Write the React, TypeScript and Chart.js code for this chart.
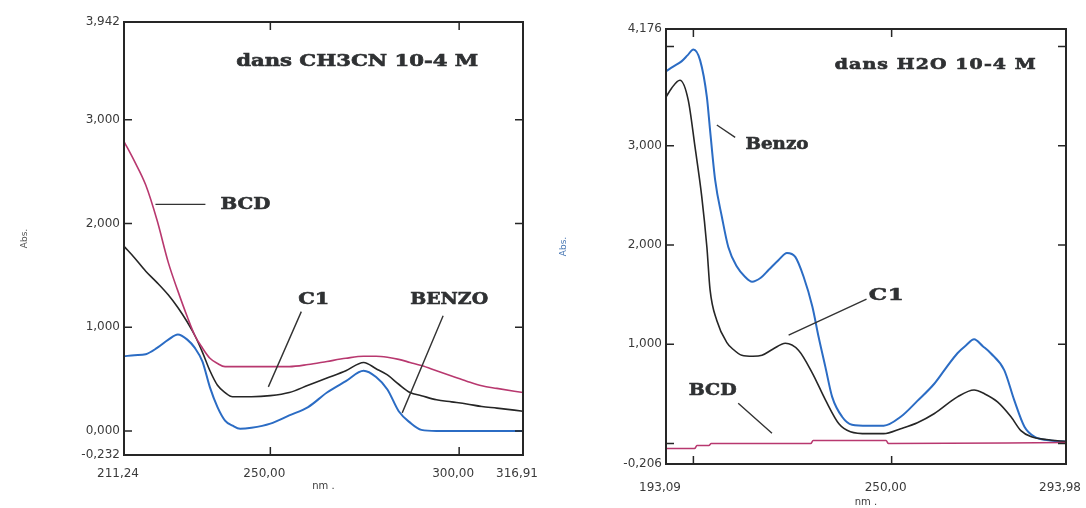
import React, { useEffect, useRef } from 'react';
import { Chart, registerables } from 'chart.js';

Chart.register(...registerables);

// ---------------- Left panel: dans CH3CN 10-4 M ----------------
const leftNm = [211.24, 214, 217, 220, 223, 225.5, 228, 230, 232, 234, 236, 238, 240, 242, 245, 250, 255, 260, 265, 270, 274.7, 278, 281, 284, 287, 290, 294, 298, 302, 306, 310, 316.91];
const leftBcd = [2.79, 2.6, 2.37, 2.03, 1.62, 1.35, 1.1, 0.92, 0.8, 0.7, 0.65, 0.62, 0.62, 0.62, 0.62, 0.62, 0.62, 0.64, 0.67, 0.7, 0.72, 0.72, 0.71, 0.69, 0.66, 0.63, 0.58, 0.53, 0.48, 0.435, 0.41, 0.37];
const leftC1 = [1.78, 1.67, 1.54, 1.43, 1.31, 1.19, 1.05, 0.92, 0.76, 0.58, 0.44, 0.37, 0.33, 0.33, 0.33, 0.34, 0.37, 0.44, 0.51, 0.58, 0.66, 0.6, 0.54, 0.45, 0.37, 0.34, 0.3, 0.28, 0.26, 0.235, 0.22, 0.19];
const leftBenzo = [0.72, 0.73, 0.74, 0.8, 0.88, 0.93, 0.88, 0.8, 0.67, 0.42, 0.23, 0.1, 0.05, 0.02, 0.03, 0.07, 0.15, 0.23, 0.37, 0.48, 0.58, 0.52, 0.4, 0.19, 0.08, 0.01, 0, 0, 0, 0, 0, 0];
const leftXTicks = [211.24, 250, 300, 316.91];
const leftXMarks = [250, 300];
const leftYTicks = [-0.232, 0, 1, 2, 3, 3.942];
const leftYMarks = [0, 1, 2, 3];

// ---------------- Right panel: dans H2O 10-4 M ----------------
const rightBenzoNm = [193.09, 195, 197, 198.5, 200, 201.7, 203.4, 204.2, 205.5, 207.2, 208.8, 211, 213, 214.8, 217, 219, 221.5, 223.6, 225.7, 227.8, 230, 231.6, 233.3, 235, 237.5, 240, 244, 248, 252.3, 256.5, 260.7, 263.5, 266.6, 268.8, 270.8, 273, 275, 278.4, 280.9, 283.5, 286, 290, 293.98];
const rightBenzo = [3.75, 3.8, 3.85, 3.91, 3.97, 3.86, 3.49, 3.16, 2.65, 2.28, 1.98, 1.78, 1.68, 1.63, 1.67, 1.75, 1.85, 1.92, 1.88, 1.68, 1.38, 1.07, 0.77, 0.47, 0.27, 0.19, 0.18, 0.18, 0.27, 0.43, 0.6, 0.75, 0.91, 0.99, 1.05, 0.98, 0.91, 0.74, 0.44, 0.17, 0.07, 0.03, 0.02];
const rightC1Nm = [193.09, 194.5, 196.6, 198.7, 200.4, 202.1, 203.4, 204.2, 205.9, 208.4, 210, 212.2, 215, 217.3, 220, 223.2, 226.5, 230, 233.3, 236.7, 239.6, 244, 248, 252.3, 256.5, 260.7, 266.6, 270.8, 273.5, 276.7, 280.1, 282.6, 285.1, 289, 293.98];
const rightC1 = [3.49, 3.58, 3.66, 3.46, 2.99, 2.49, 1.98, 1.55, 1.24, 1.02, 0.95, 0.89, 0.88, 0.89, 0.95, 1.01, 0.94, 0.71, 0.44, 0.2, 0.12, 0.1, 0.1, 0.15, 0.21, 0.3, 0.47, 0.54, 0.5, 0.42, 0.27, 0.13, 0.07, 0.04, 0.02];
const rightBcdNm = [193.09, 200.3, 200.9, 203.9, 204.5, 229.6, 230.2, 248.6, 249.2, 293.98];
const rightBcd = [-0.05, -0.05, -0.02, -0.02, 0.0, 0.0, 0.03, 0.03, 0.0, 0.01];
const rightXTicks = [193.09, 250, 293.98];
const rightXMarks = [200, 250];
const rightYTicks = [-0.206, 1, 2, 3, 4.176];
const rightYMarks = [0, 1, 2, 3, 4];

const COLOR_BCD = '#b8386f';
const COLOR_C1 = '#262626';
const COLOR_BENZO = '#2b6cc4';

type Series = { name: string; nm: number[]; values: number[]; color: string; width: number };
type Label = { text: string; x: number; y: number; w: number; size: number };
type Leader = [number, number, number, number];

interface PanelSpec {
  series: Series[];
  xMin: number; xMax: number; yMin: number; yMax: number;
  xTicks: number[]; yTicks: number[]; xMarks: number[]; yMarks: number[];
  labels: Label[]; leaders: Leader[];
  padLeft: number; padTop: number; padRight: number;
  yWidth: number; xHeight: number; xTickPad: number; xTitlePad: number;
  yTitlePad: number; yTitleColor: string;
}

const leftPanel: PanelSpec = {
  series: [
    { name: 'BCD', nm: leftNm, values: leftBcd, color: COLOR_BCD, width: 1.6 },
    { name: 'C1', nm: leftNm, values: leftC1, color: COLOR_C1, width: 1.6 },
    { name: 'BENZO', nm: leftNm, values: leftBenzo, color: COLOR_BENZO, width: 2 },
  ],
  xMin: 211.24, xMax: 316.91, yMin: -0.232, yMax: 3.942,
  xTicks: leftXTicks, yTicks: leftYTicks, xMarks: leftXMarks, yMarks: leftYMarks,
  labels: [
    { text: 'dans CH3CN 10-4 M', x: 273.0, y: 3.556, w: 242, size: 16 },
    { text: 'BCD', x: 243.4, y: 2.178, w: 50, size: 17 },
    { text: 'C1', x: 261.5, y: 1.271, w: 31, size: 17 },
    { text: 'BENZO', x: 297.35, y: 1.271, w: 78, size: 17 },
  ],
  leaders: [
    [219.57, 2.184, 232.8, 2.184],
    [258.2, 1.15, 249.47, 0.425],
    [295.76, 1.111, 284.92, 0.174],
  ],
  padLeft: 14, padTop: 22, padRight: 20, yWidth: 110, xHeight: 53,
  xTickPad: 12, xTitlePad: 16, yTitlePad: 5, yTitleColor: '#555555',
};

const rightPanel: PanelSpec = {
  series: [
    { name: 'BCD', nm: rightBcdNm, values: rightBcd, color: COLOR_BCD, width: 1.6 },
    { name: 'C1', nm: rightC1Nm, values: rightC1, color: COLOR_C1, width: 1.6 },
    { name: 'Benzo', nm: rightBenzoNm, values: rightBenzo, color: COLOR_BENZO, width: 2 },
  ],
  xMin: 193.09, xMax: 293.98, yMin: -0.206, yMax: 4.176,
  xTicks: rightXTicks, yTicks: rightYTicks, xMarks: rightXMarks, yMarks: rightYMarks,
  labels: [
    { text: 'dans H2O 10-4 M', x: 261.0, y: 3.814, w: 201, size: 14 },
    { text: 'Benzo', x: 221.09, y: 3.007, w: 63, size: 17 },
    { text: 'C1', x: 248.65, y: 1.488, w: 35, size: 17 },
    { text: 'BCD', x: 204.85, y: 0.537, w: 48, size: 17 },
  ],
  leaders: [
    [205.91, 3.209, 210.54, 3.085],
    [243.67, 1.455, 224.02, 1.092],
    [211.3, 0.406, 219.82, 0.104],
  ],
  padLeft: 14, padTop: 29, padRight: 20, yWidth: 109, xHeight: 44,
  xTickPad: 17, xTitlePad: 0, yTitlePad: 1, yTitleColor: '#4a78b4',
};

function drawLabel(ctx: CanvasRenderingContext2D, text: string, cx: number, cy: number, targetW: number, size: number) {
  ctx.save();
  ctx.font = `bold ${size}px "DejaVu Serif"`;
  ctx.fillStyle = '#2f3133';
  ctx.strokeStyle = '#2f3133';
  ctx.lineWidth = 0.6;
  ctx.textBaseline = 'middle';
  ctx.textAlign = 'left';
  (ctx as any).letterSpacing = '0px';
  const m = ctx.measureText(text).width;
  let sx = 1;
  let spacing = 0;
  if (targetW > m) {
    sx = Math.min(targetW / m, 1.35);
    const rem = targetW - m * sx;
    spacing = text.length > 1 ? rem / (text.length - 1) / sx : 0;
  } else {
    sx = targetW / m;
  }
  (ctx as any).letterSpacing = `${spacing}px`;
  ctx.translate(cx - targetW / 2, cy);
  ctx.scale(sx, 1);
  ctx.fillText(text, 0, 0);
  ctx.strokeText(text, 0, 0);
  ctx.restore();
}

function framePlugin(p: PanelSpec) {
  return {
    id: 'frame',
    afterDraw(chart: any) {
      const { ctx, chartArea: a, scales } = chart;
      const xs = scales.x;
      const ys = scales.y;
      ctx.save();
      ctx.strokeStyle = '#262626';
      ctx.lineWidth = 2;
      ctx.strokeRect(a.left, a.top, a.right - a.left, a.bottom - a.top);
      ctx.lineWidth = 1.5;
      ctx.beginPath();
      for (const v of p.xMarks) {
        const px = xs.getPixelForValue(v);
        ctx.moveTo(px, a.top);
        ctx.lineTo(px, a.top + 8);
        ctx.moveTo(px, a.bottom);
        ctx.lineTo(px, a.bottom - 8);
      }
      for (const v of p.yMarks) {
        const py = ys.getPixelForValue(v);
        ctx.moveTo(a.left, py);
        ctx.lineTo(a.left + 8, py);
        ctx.moveTo(a.right, py);
        ctx.lineTo(a.right - 8, py);
      }
      ctx.stroke();
      ctx.strokeStyle = '#333333';
      ctx.lineWidth = 1.4;
      ctx.beginPath();
      for (const [x1, y1, x2, y2] of p.leaders) {
        ctx.moveTo(xs.getPixelForValue(x1), ys.getPixelForValue(y1));
        ctx.lineTo(xs.getPixelForValue(x2), ys.getPixelForValue(y2));
      }
      ctx.stroke();
      for (const l of p.labels) {
        drawLabel(ctx, l.text, xs.getPixelForValue(l.x), ys.getPixelForValue(l.y), l.w, l.size);
      }
      ctx.restore();
    },
  };
}

function buildConfig(p: PanelSpec): any {
  const tickFont = { family: 'DejaVu Sans', size: 12 };
  return {
    type: 'line',
    data: {
      datasets: p.series.map((s) => ({
        label: s.name,
        data: s.nm.map((x, i) => ({ x, y: s.values[i] })),
        borderColor: s.color,
        backgroundColor: s.color,
        borderWidth: s.width,
        pointRadius: 0,
        cubicInterpolationMode: 'monotone',
        fill: false,
      })),
    },
    options: {
      animation: false,
      responsive: false,
      events: [],
      layout: { padding: { left: p.padLeft, top: p.padTop, right: p.padRight, bottom: 0 } },
      plugins: { legend: { display: false }, tooltip: { enabled: false } },
      scales: {
        x: {
          type: 'linear',
          min: p.xMin,
          max: p.xMax,
          grid: { display: false, drawTicks: false },
          border: { display: false },
          afterBuildTicks: (s: any) => { s.ticks = p.xTicks.map((v) => ({ value: v })); },
          afterFit: (s: any) => { s.height = p.xHeight; s.paddingLeft = 0; s.paddingRight = 0; },
          ticks: {
            autoSkip: false,
            maxRotation: 0,
            minRotation: 0,
            padding: p.xTickPad,
            labelOffset: -6,
            color: '#3a3a3a',
            font: tickFont,
            callback: (v: any) => Number(v).toFixed(2).replace('.', ','),
          },
          title: {
            display: true,
            text: 'nm .',
            color: '#3a3a3a',
            font: { family: 'DejaVu Sans', size: 10 },
            padding: { top: 0, bottom: p.xTitlePad },
          },
        },
        y: {
          type: 'linear',
          min: p.yMin,
          max: p.yMax,
          grid: { display: false, drawTicks: false },
          border: { display: false },
          afterBuildTicks: (s: any) => { s.ticks = p.yTicks.map((v) => ({ value: v })); },
          afterFit: (s: any) => { s.width = p.yWidth; s.paddingTop = 0; s.paddingBottom = 0; },
          ticks: {
            autoSkip: false,
            padding: 4,
            color: '#3a3a3a',
            font: tickFont,
            callback: (v: any) => Number(v).toFixed(3).replace('.', ','),
          },
          title: {
            display: true,
            text: 'Abs.',
            color: p.yTitleColor,
            font: { family: 'DejaVu Sans', size: 9 },
            padding: { top: p.yTitlePad, bottom: 0 },
          },
        },
      },
    },
    plugins: [framePlugin(p)],
  };
}

function Panel({ spec, left }: { spec: PanelSpec; left: number }) {
  const ref = useRef<HTMLCanvasElement | null>(null);
  useEffect(() => {
    if (!ref.current) return;
    const chart = new Chart(ref.current, buildConfig(spec));
    return () => chart.destroy();
  }, [spec]);
  return (
    <canvas
      ref={ref}
      width={543}
      height={508}
      style={{ position: 'absolute', left, top: 0, width: 543, height: 508, display: 'block' }}
    />
  );
}

export default function App() {
  return (
    <div style={{ position: 'absolute', left: 0, top: 0, width: 1086, height: 508, background: '#ffffff', overflow: 'hidden' }}>
      <Panel spec={leftPanel} left={0} />
      <Panel spec={rightPanel} left={543} />
    </div>
  );
}
